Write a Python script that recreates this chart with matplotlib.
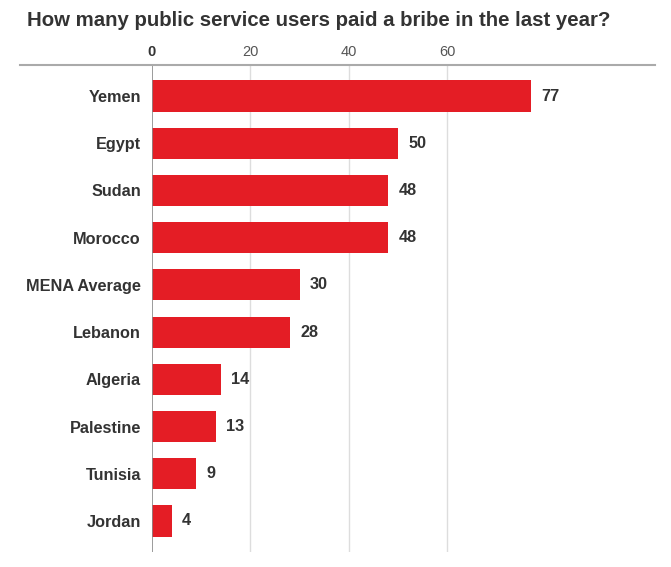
import matplotlib
matplotlib.use("Agg")
import matplotlib.pyplot as plt
from matplotlib.lines import Line2D

countries = ["Yemen", "Egypt", "Sudan", "Morocco", "MENA Average",
             "Lebanon", "Algeria", "Palestine", "Tunisia", "Jordan"]
values = [77, 50, 48, 48, 30, 28, 14, 13, 9, 4]
ticks = [0, 20, 40, 60]

RED = "#e41d25"
TEXT = "#333333"
SANS = ["Liberation Sans", "DejaVu Sans"]

fig = plt.figure(figsize=(6.71, 5.67), dpi=100)
fig.patch.set_facecolor("white")
ax = fig.add_axes([152 / 671, 1 - 552 / 567, 503 / 671, 487 / 567])

ypos = list(range(len(countries)))
ax.barh(ypos, values, height=0.66, color=RED, zorder=3)
ax.set_xlim(0, 102.2)
ax.set_ylim(len(countries) - 1 + 0.657, -0.657)

# gridlines
for t in ticks:
    ax.axvline(t, color="#8a8a8a" if t == 0 else "#dddddd",
               lw=1.2 if t == 0 else 1.0, zorder=1 if t else 4)

ax.set_xticks(ticks)
ax.xaxis.tick_top()
ax.tick_params(axis="x", length=0, pad=4, labelsize=10.5, labelcolor="#555555")
for lab in ax.get_xticklabels():
    lab.set_family(SANS)
    if lab.get_text() == "0":
        lab.set_fontweight("bold")
        lab.set_color(TEXT)

ax.set_yticks(ypos)
ax.set_yticklabels(countries, fontsize=11.7, fontweight="bold", color=TEXT, family=SANS)
ax.tick_params(axis="y", length=0, pad=8)

for y, v in zip(ypos, values):
    ax.annotate(str(v), (v, y), xytext=(7.5, 0), textcoords="offset points",
                va="center", ha="left", fontsize=11.7, fontweight="bold",
                color=TEXT, family=SANS)

for s in ax.spines.values():
    s.set_visible(False)

# top rule spanning most of the width
fig.add_artist(Line2D([20 / 671, 655 / 671], [1 - 65 / 567, 1 - 65 / 567],
                      color="#aaaaaa", lw=1.5))

fig.text(27 / 671, 1 - 21 / 567, "How many public service users paid a bribe in the last year?",
         fontsize=14.7, fontweight="bold", color=TEXT, family=SANS,
         ha="left", va="center")

fig.savefig("out.png", dpi=100)
